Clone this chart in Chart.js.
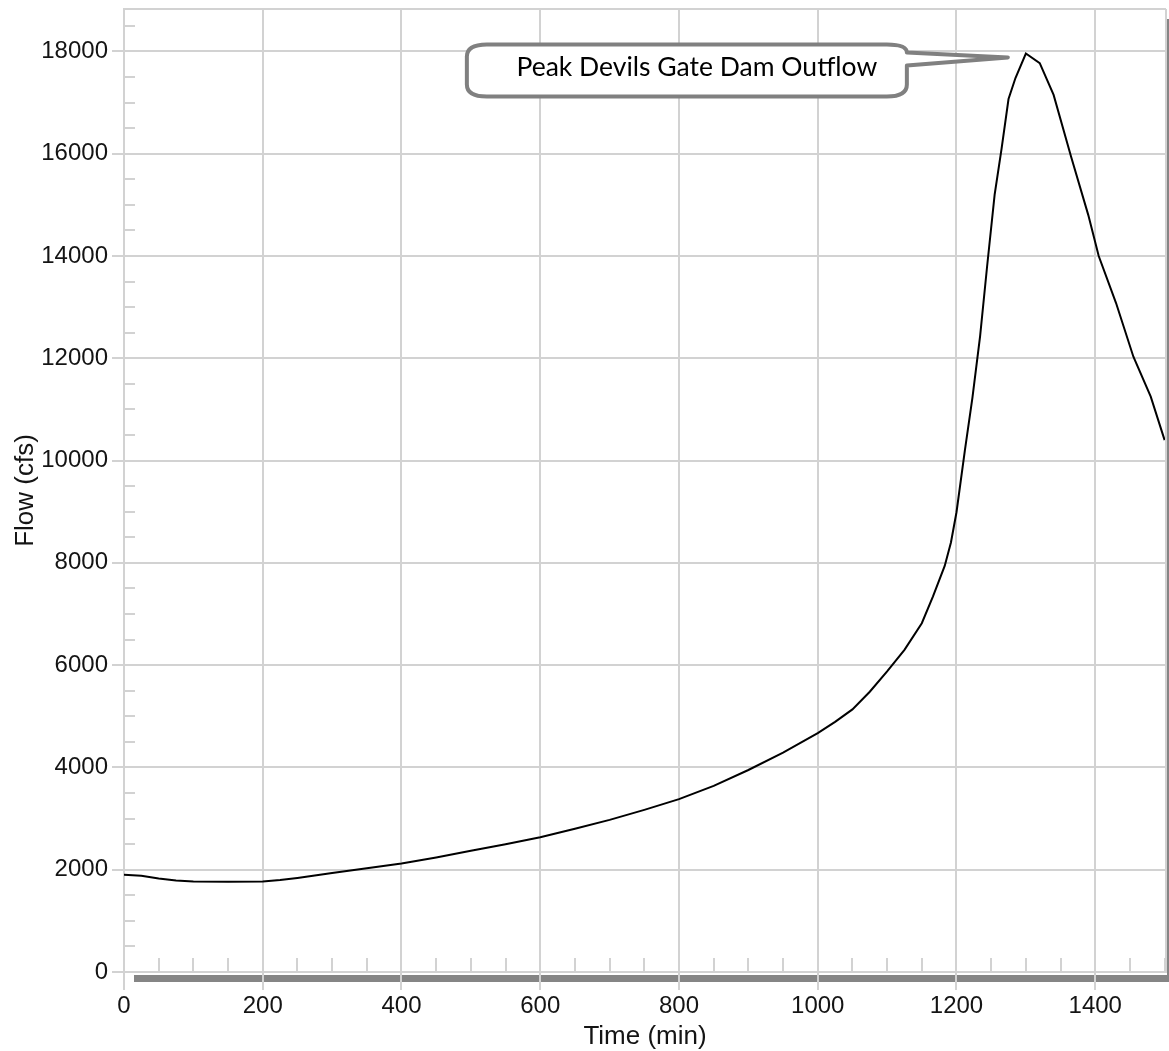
<!DOCTYPE html>
<html>
<head>
<meta charset="utf-8">
<script src="https://cdn.jsdelivr.net/npm/chart.js@4.4.1/dist/chart.umd.min.js"></script>
<style>
  html, body { margin: 0; padding: 0; background: #fff; }
  #wrap { width: 1169px; height: 1051px; position: relative; }
</style>
</head>
<body>
<div id="wrap"><canvas id="myChart"></canvas></div>
<script>
// outflow hydrograph
const times = [0, 25, 50, 75, 100, 150, 200, 225, 250, 300, 350, 400, 450, 500, 550, 600, 650, 700, 750, 800,
  850, 900, 950, 1000, 1025, 1050, 1075, 1100, 1125, 1150, 1166, 1183, 1192, 1200, 1212, 1223, 1234, 1244, 1255,
  1265, 1275, 1285, 1300, 1320, 1340, 1365, 1390, 1405, 1430, 1455, 1480, 1500];
const flows = [1900, 1880, 1830, 1790, 1770, 1765, 1770, 1800, 1840, 1935, 2030, 2120, 2240, 2370, 2500, 2635, 2800, 2975, 3170, 3380,
  3640, 3950, 4290, 4670, 4890, 5135, 5480, 5880, 6300, 6820, 7340, 7940, 8400, 8990, 10190, 11230, 12430, 13780, 15200,
  16100, 17070, 17480, 17960, 17770, 17150, 15950, 14800, 14000, 13080, 12030, 11250, 10400];

const xTicks = [0, 200, 400, 600, 800, 1000, 1200, 1400];
const yTicks = [0, 2000, 4000, 6000, 8000, 10000, 12000, 14000, 16000, 18000];
const xMin = 0, xMax = 1502, xMinorStep = 50;
const yMin = 0, yMax = 18830, yMinorStep = 500;
const xTitle = 'Time (min)';
const yTitle = 'Flow (cfs)';
const calloutText = 'Peak Devils Gate Dam Outflow';

const gridColor = '#d2d2d2';
const tickFont = { family: "'Liberation Sans', Arial, sans-serif", size: 24 };
const titleFont = { family: "'Liberation Sans', Arial, sans-serif", size: 26 };

const points = times.map((t, i) => ({ x: t, y: flows[i] }));

// frame, shadow, minor ticks and the callout
const decor = {
  id: 'decor',
  beforeDraw(chart) {
    const { ctx, chartArea: a } = chart;
    ctx.save();
    ctx.fillStyle = '#858585';
    ctx.fillRect(a.left + 10, a.bottom + 3, a.right - a.left + 10, 7);
    ctx.fillRect(a.right + 1, a.top + 10, 7, a.bottom - a.top);
    ctx.restore();
  },
  afterDraw(chart) {
    const { ctx, chartArea: a, scales } = chart;
    const x = scales.x, y = scales.y;
    ctx.save();
    ctx.strokeStyle = gridColor;
    ctx.lineWidth = 2;
    ctx.beginPath();
    for (let v = yMinorStep; v < yMax; v += yMinorStep) {
      if (yTicks.includes(v)) continue;
      const py = Math.round(y.getPixelForValue(v));
      ctx.moveTo(a.left, py);
      ctx.lineTo(a.left + 11, py);
    }
    for (let v = xMinorStep; v < xMax; v += xMinorStep) {
      if (xTicks.includes(v)) continue;
      const px = Math.round(x.getPixelForValue(v));
      ctx.moveTo(px, a.bottom);
      ctx.lineTo(px, a.bottom - 14);
    }
    ctx.moveTo(a.left, a.top);
    ctx.lineTo(a.right, a.top);
    ctx.moveTo(a.right, a.top);
    ctx.lineTo(a.right, a.bottom);
    ctx.stroke();

    // callout pointing at the peak
    let pk = 0;
    flows.forEach((f, i) => { if (f > flows[pk]) pk = i; });
    const tx = x.getPixelForValue(times[pk]) - 18;
    const ty = y.getPixelForValue(flows[pk]) + 4;
    const L = tx - 541, R = tx - 101, T = ty - 13, B = ty + 39;
    const rx = 20, ry = 12;
    ctx.beginPath();
    ctx.moveTo(L + rx, T);
    ctx.lineTo(R - rx, T);
    ctx.quadraticCurveTo(R, T, R, T + 8);
    ctx.lineTo(tx, ty);
    ctx.lineTo(R, T + 21);
    ctx.lineTo(R, B - ry);
    ctx.quadraticCurveTo(R, B, R - rx, B);
    ctx.lineTo(L + rx, B);
    ctx.quadraticCurveTo(L, B, L, B - ry);
    ctx.lineTo(L, T + ry);
    ctx.quadraticCurveTo(L, T, L + rx, T);
    ctx.closePath();
    ctx.fillStyle = '#fff';
    ctx.fill();
    ctx.lineJoin = 'round';
    ctx.lineWidth = 4;
    ctx.strokeStyle = '#808080';
    ctx.stroke();
    ctx.fillStyle = '#000';
    ctx.font = "26.5px Lato, 'Open Sans', sans-serif";
    ctx.textAlign = 'center';
    ctx.textBaseline = 'alphabetic';
    ctx.fillText(calloutText, tx - 311, ty + 19);
    ctx.restore();
  }
};

new Chart(document.getElementById('myChart'), {
  type: 'line',
  data: {
    datasets: [{
      data: points,
      borderColor: '#000',
      borderWidth: 2,
      pointRadius: 0,
      tension: 0,
      fill: false
    }]
  },
  options: {
    responsive: true,
    maintainAspectRatio: false,
    animation: false,
    devicePixelRatio: 1,
    layout: { padding: { top: 9, right: 3, left: 0, bottom: 0 } },
    plugins: { legend: { display: false }, tooltip: { enabled: false } },
    scales: {
      x: {
        type: 'linear',
        min: xMin,
        max: xMax,
        afterBuildTicks(s) { s.ticks = xTicks.map(v => ({ value: v })); },
        afterFit(s) { s.height = 79; s.paddingLeft = 0; s.paddingRight = 0; },
        ticks: { font: tickFont, color: '#141414', padding: 2, maxRotation: 0, autoSkip: false, callback: v => String(v) },
        grid: { color: gridColor, lineWidth: 2, tickLength: 18 },
        border: { color: gridColor, width: 2 },
        title: { display: true, text: xTitle, font: titleFont, color: '#141414', padding: { top: 0, bottom: -1 } }
      },
      y: {
        type: 'linear',
        min: yMin,
        max: yMax,
        afterBuildTicks(s) { s.ticks = yTicks.map(v => ({ value: v })); },
        afterFit(s) { s.width = 124; s.paddingTop = 0; s.paddingBottom = 0; },
        ticks: { font: tickFont, color: '#141414', padding: 4, autoSkip: false, callback: v => String(v) },
        grid: { color: gridColor, lineWidth: 2, tickLength: 12 },
        border: { color: gridColor, width: 2 },
        title: { display: true, text: yTitle, font: titleFont, color: '#141414', padding: { top: 10, bottom: 0 } }
      }
    }
  },
  plugins: [decor]
});
</script>
</body>
</html>
